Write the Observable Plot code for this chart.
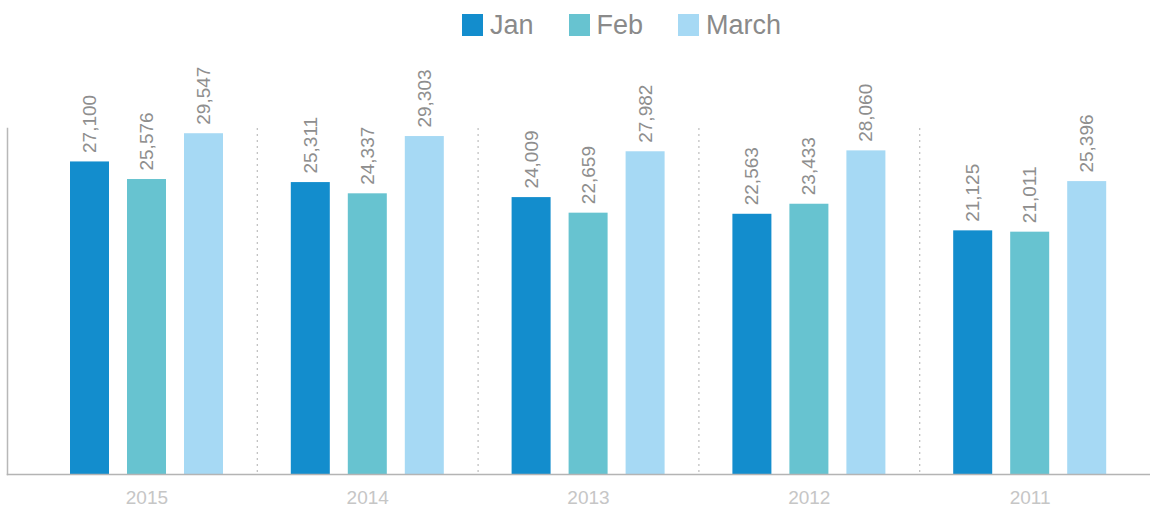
<!DOCTYPE html>
<html>
<head>
<meta charset="utf-8">
<script src="https://cdn.jsdelivr.net/npm/d3@7"></script>
<script src="https://cdn.jsdelivr.net/npm/@observablehq/plot@0.6"></script>
<style>
  html, body { margin: 0; padding: 0; background: #fff; }
  body { width: 1150px; height: 507px; overflow: hidden; font-family: "Liberation Sans", Arial, sans-serif; }
  #legend { height: 50px; display: flex; align-items: flex-start; padding-left: 462px; box-sizing: border-box; }
  .item { display: flex; align-items: center; margin-right: 35px; margin-top: 11px; }
  .sw { width: 21px; height: 22px; margin-right: 7px; }
  .lab { font-size: 27px; color: #8a8a8a; line-height: 28px; }
</style>
</head>
<body>
<div id="legend"></div>
<div id="chart"></div>
<script>
const years = ["2015", "2014", "2013", "2012", "2011"];
const months = ["Jan", "Feb", "March"];
const jan = [27100, 25311, 24009, 22563, 21125];
const feb = [25576, 24337, 22659, 23433, 21011];
const march = [29547, 29303, 27982, 28060, 25396];
const colors = ["#138dcd", "#67c3d0", "#a6d9f4"];

const series = [jan, feb, march];
const data = [];
years.forEach((y, i) => months.forEach((m, j) => data.push({year: y, month: m, value: series[j][i]})));

// legend
const legend = document.getElementById("legend");
months.forEach((m, j) => {
  const it = document.createElement("div");
  it.className = "item";
  it.innerHTML = `<div class="sw" style="background:${colors[j]}"></div><span class="lab">${m}</span>`;
  legend.appendChild(it);
});

const fmt = d3.format(",");

const chart = Plot.plot({
  width: 1150,
  height: 457,
  marginTop: 78,
  marginBottom: 33,
  marginLeft: 36,
  marginRight: 10,
  style: {fontFamily: "'Liberation Sans', Arial, sans-serif", background: "#fff", overflow: "visible"},
  fx: {domain: years, padding: 0, round: false, label: null},
  x: {domain: months, paddingInner: 0.316, paddingOuter: 0.594, axis: null},
  y: {domain: [0, 30000], axis: null},
  color: {domain: months, range: colors},
  marks: [
    Plot.barY(data, {fx: "year", x: "month", y: "value", fill: "month"}),
    Plot.text(data, {fx: "year", x: "month", y: "value", text: d => fmt(d.value), rotate: -90, textAnchor: "start", dy: -9, fill: "#8e8e8e", fontSize: 19}),
    ...years.slice(1).map(y => Plot.frame({anchor: "left", fx: y, stroke: "#bdbdbd", strokeWidth: 1.2, strokeDasharray: "1,5"})),
    Plot.frame({anchor: "left", facet: "super", insetLeft: -29, stroke: "#b8b8b8", strokeWidth: 1.5}),
    Plot.frame({anchor: "bottom", facet: "super", insetLeft: -29, insetRight: -10, stroke: "#b4b4b4", strokeWidth: 1.5}),
    Plot.axisFx({anchor: "bottom", tickSize: 0, tickPadding: 16, fontSize: 19, color: "#c6c6c6", label: null})
  ]
});
document.getElementById("chart").appendChild(chart);
</script>
</body>
</html>
